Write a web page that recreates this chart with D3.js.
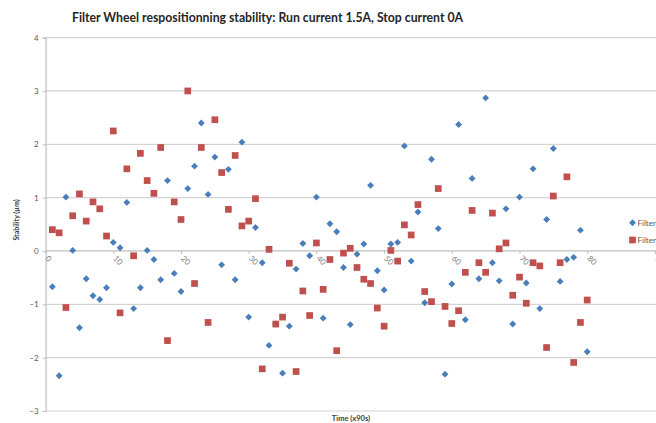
<!DOCTYPE html>
<html>
<head>
<meta charset="utf-8">
<script src="https://cdn.jsdelivr.net/npm/d3@7/dist/d3.min.js"></script>
<style>
  html, body { margin: 0; padding: 0; background: #fff; }
  svg { display: block; }
  text { font-family: Lato, "Open Sans", "DejaVu Sans", sans-serif; }
</style>
</head>
<body>
<svg id="chart" width="656" height="423"></svg>
<script>
// Sample number (each sample is one 90 s repositioning cycle)
const sampleNo = [
   1,  2,  3,  4,  5,  6,  7,  8,  9, 10, 11, 12, 13, 14, 15, 16, 17, 18, 19, 20,
  21, 22, 23, 24, 25, 26, 27, 28, 29, 30, 31, 32, 33, 34, 35, 36, 37, 38, 39, 40,
  41, 42, 43, 44, 45, 46, 47, 48, 49, 50, 51, 52, 53, 54, 55, 56, 57, 58, 59, 60,
  61, 62, 63, 64, 65, 66, 67, 68, 69, 70, 71, 72, 73, 74, 75, 76, 77, 78, 79, 80
];

// Stability of the first measured axis (µm)
const seriesA = [
  -0.67, -2.34,  1.01,  0.01, -1.44, -0.52, -0.84, -0.91, -0.69,  0.16,
   0.06,  0.91, -1.08, -0.69,  0.01, -0.16, -0.54,  1.32, -0.42, -0.76,
   1.17,  1.59,  2.40,  1.06,  1.76, -0.26,  1.53, -0.54,  2.04, -1.24,
   0.44, -0.22, -1.77, -1.37, -2.29, -1.41, -0.34,  0.14, -0.09,  1.01,
  -1.26,  0.51,  0.36, -0.31, -1.38, -0.06,  0.13,  1.23, -0.37, -0.73,
   0.13,  0.16,  1.97, -0.19,  0.73, -0.97,  1.72,  0.42, -2.31, -0.62,
   2.37, -1.29,  1.36, -0.52,  2.87, -0.22, -0.56,  0.79, -1.37,  1.01,
  -0.60,  1.54, -1.08,  0.59,  1.92, -0.57, -0.16, -0.12,  0.39, -1.89
];

// Stability of the second measured axis (µm)
const seriesB = [
   0.40,  0.34, -1.06,  0.66,  1.07,  0.56,  0.92,  0.79,  0.28,  2.25,
  -1.16,  1.54, -0.09,  1.83,  1.32,  1.08,  1.94, -1.68,  0.92,  0.59,
   3.00, -0.61,  1.94, -1.34,  2.46,  1.47,  0.78,  1.79,  0.47,  0.56,
   0.98, -2.21,  0.03, -1.37, -1.24, -0.23, -2.26, -0.75, -1.21,  0.15,
  -0.72, -0.16, -1.87, -0.04,  0.05, -0.31, -0.53, -0.61, -1.07, -1.41,
   0.01, -0.19,  0.49,  0.30,  0.87, -0.76, -0.95,  1.17, -1.04, -1.36,
  -1.12, -0.40,  0.76, -0.22, -0.40,  0.71,  0.04,  0.15, -0.83, -0.49,
  -0.98, -0.22, -0.28, -1.81,  1.03, -0.22,  1.39, -2.09, -1.34, -0.92
];

const seriesNames = ["Filter wheel X", "Filter wheel Y"];
const yTicks = [-3, -2, -1, 0, 1, 2, 3, 4];
const xTicks = [0, 10, 20, 30, 40, 50, 60, 70, 80, 90];

const titleText = "Filter Wheel respositionning stability: Run current 1.5A, Stop current 0A";
const yTitle = "Stability (µm)";
const xTitle = "Time (x90s)";

const svg = d3.select("#chart");

const x = d3.scaleLinear().domain([0, 100]).range([45.6, 722.6]);
const y = d3.scaleLinear().domain([-3, 4]).range([411, 37.6]);

// Title
svg.append("text")
  .attr("x", 267.5).attr("y", 21.5)
  .attr("text-anchor", "middle")
  .attr("font-size", 13).attr("font-weight", 700)
  .attr("fill", "#262626")
  .attr("textLength", 391).attr("lengthAdjust", "spacingAndGlyphs")
  .text(titleText);

// Horizontal gridlines
svg.append("g")
  .selectAll("line")
  .data(yTicks)
  .join("line")
  .attr("x1", x(0)).attr("x2", x(100))
  .attr("y1", d => y(d)).attr("y2", d => y(d))
  .attr("stroke", d => d === 0 ? "#bfbfbf" : "#d4d4d4")
  .attr("stroke-width", 1.2);

// Vertical axis with labels
const yAxis = d3.axisLeft(y).tickValues(yTicks).tickSize(3).tickPadding(4).tickFormat(d3.format("d"));
const gy = svg.append("g").attr("transform", `translate(${x(0)},0)`).call(yAxis);
gy.select(".domain").attr("stroke", "#bfbfbf").attr("stroke-width", 1.2);
gy.selectAll(".tick line").attr("stroke", "#bfbfbf");
gy.selectAll(".tick text").attr("fill", "#595959").attr("font-size", 8).attr("font-family", "Lato, sans-serif");

// Horizontal axis sitting on y = 0, labels slanted
const xAxis = d3.axisBottom(x).tickValues(xTicks).tickSize(3).tickFormat(d3.format("d"));
const gx = svg.append("g").attr("transform", `translate(0,${y(0)})`).call(xAxis);
gx.select(".domain").remove();
gx.selectAll(".tick line").attr("stroke", "#bfbfbf");
gx.selectAll(".tick text")
  .attr("fill", "#7f7f7f").attr("font-size", 8).attr("font-family", "Lato, sans-serif")
  .attr("text-anchor", "start")
  .attr("dy", null)
  .attr("y", 0)
  .attr("transform", "translate(-1,8) rotate(45)");

// Axis titles
svg.append("text")
  .attr("transform", `translate(19,${220}) rotate(-90)`)
  .attr("text-anchor", "middle")
  .attr("font-size", 7).attr("font-weight", 700).attr("fill", "#404040")
  .text(yTitle);

svg.append("text")
  .attr("x", 351).attr("y", 421)
  .attr("text-anchor", "middle")
  .attr("font-size", 7.5).attr("font-weight", 700).attr("fill", "#404040")
  .text(xTitle);

// Markers
const diamond = d3.symbol().type(d3.symbolDiamond2).size(30);
const square = d3.symbol().type(d3.symbolSquare).size(45);

const ptsA = sampleNo.map((s, i) => ({ s, v: seriesA[i] }));
const ptsB = sampleNo.map((s, i) => ({ s, v: seriesB[i] }));

svg.append("g")
  .selectAll("path")
  .data(ptsA)
  .join("path")
  .attr("d", diamond)
  .attr("transform", d => `translate(${x(d.s)},${y(d.v)})`)
  .attr("fill", "#4a7ebb");

svg.append("g")
  .selectAll("path")
  .data(ptsB)
  .join("path")
  .attr("d", square)
  .attr("transform", d => `translate(${x(d.s)},${y(d.v)})`)
  .attr("fill", "#c0504d");

// Legend (runs off the right edge)
const legend = svg.append("g");
const legendRows = [
  { name: seriesNames[0], sym: diamond, color: "#4a7ebb", yy: 222.7 },
  { name: seriesNames[1], sym: square, color: "#c0504d", yy: 240 }
];
legendRows.forEach(r => {
  legend.append("path").attr("d", r.sym).attr("fill", r.color)
    .attr("transform", `translate(632.5,${r.yy})`);
  legend.append("text").attr("x", 637.5).attr("y", r.yy + 3)
    .attr("font-size", 8).attr("fill", "#595959").text(r.name);
});
</script>
</body>
</html>
